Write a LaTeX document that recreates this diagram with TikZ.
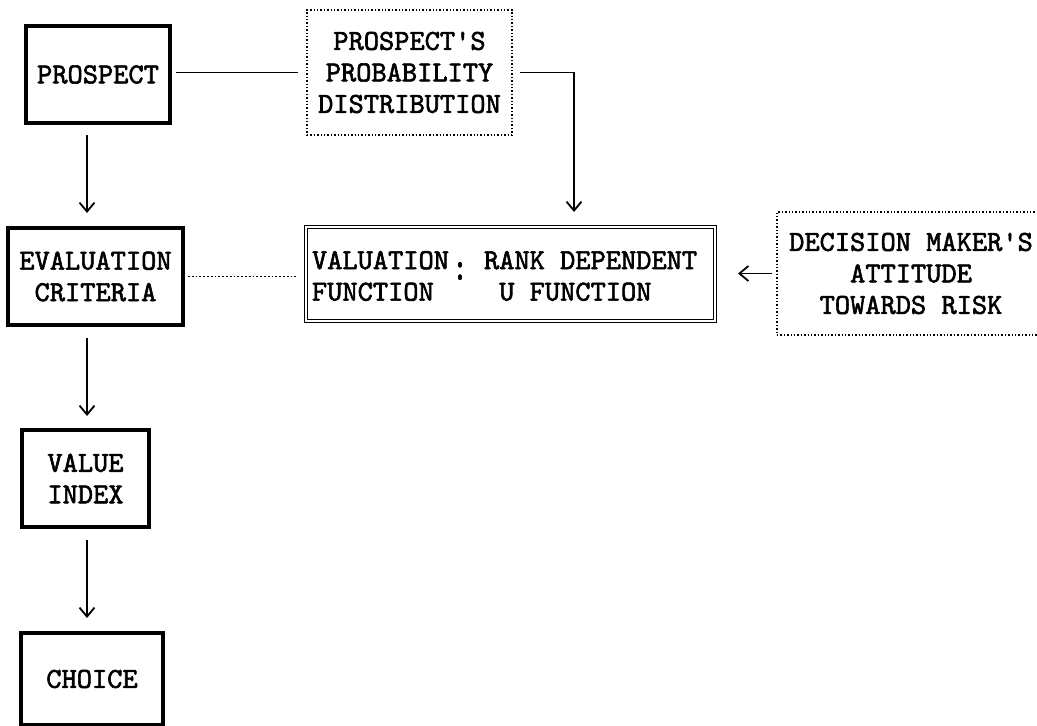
\documentclass[tikz,border=0pt]{standalone}
\usepackage{fontspec}
\newfontfamily\typew{lmmono10-regular.otf}[FakeBold=2]
\usetikzlibrary{arrows.meta}
\begin{document}
\begin{tikzpicture}[x=0.5pt, y=-0.5pt,
  every node/.style={inner sep=0pt, outer sep=0pt, align=center,
    font=\fontsize{14.5}{15.75}\selectfont\typew},
  tbox/.style={draw, line width=1.6pt},
  dbox/.style={draw, densely dotted, line width=0.7pt},
  vbox/.style={draw, double, line width=0.6pt, double distance=0.9pt},
  link/.style={line width=0.9pt},
  flow/.style={link, -{Straight Barb[length=4.5pt, width=7.5pt]}}]
\useasboundingbox (0,0) rectangle (1037,726);
\node (prospect) at (98, 74.5) [tbox, minimum width=72pt, minimum height=48.5pt]{PROSPECT};
\node (prob) at (409.5, 72.5) [dbox, minimum width=102.5pt, minimum height=62.5pt]{PROSPECT'S\\PROBABILITY\\DISTRIBUTION};
\node (eval) at (95.5, 276.5) [tbox, minimum width=87.5pt, minimum height=48.5pt]{EVALUATION\\CRITERIA};
\node (val) at (510.5, 274) [vbox, minimum width=204.5pt, minimum height=47pt]{};
\node (vallft) at (312, 276) [anchor=west, align=left]{VALUATION\\FUNCTION};
\node (valcolon) at (460, 271) {\scalebox{1}[1.4]{:}};
\node (valrgt) at (484, 276) [anchor=west, align=left]{RANK DEPENDENT\\\phantom{R}U FUNCTION};
\node (dec) at (911, 273.5) [dbox, minimum width=134pt, minimum height=61.5pt]{DECISION MAKER'S\\ATTITUDE\\TOWARDS RISK};
\node (value) at (85.5, 478.5) [tbox, minimum width=63.5pt, minimum height=48.5pt]{VALUE\\INDEX};
\node (choice) at (92, 679) [tbox, minimum width=71pt, minimum height=46pt]{CHOICE};
\coordinate (spine) at (87, 0);
\coordinate (valin) at (574, 225);
% links
\draw[link, shorten <=3pt, shorten >=4.5pt](prospect.east |- prob.west) -- (prob.west);
\draw[flow, shorten <=4pt, shorten >=6.5pt](prob.east) -| (valin);
\draw[flow, shorten <=6pt, shorten >=7.5pt](prospect.south -| spine) -- (eval.north -| spine);
\draw[link, densely dotted, line width=0.7pt, shorten <=2.5pt, shorten >=4pt](eval.east) -- (eval.east -| val.west);
\draw[flow, shorten <=2.5pt, shorten >=11.5pt](dec.west) -- (dec.west -| val.east);
\draw[flow, shorten <=6.5pt, shorten >=7pt](eval.south -| spine) -- (value.north -| spine);
\draw[flow, shorten <=6.5pt, shorten >=7.5pt](value.south -| spine) -- (choice.north -| spine);
\end{tikzpicture}
\end{document}
